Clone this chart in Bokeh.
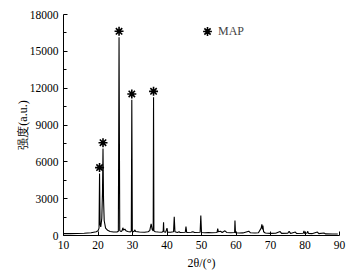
from bokeh.plotting import figure
from bokeh.models import (Range1d, FixedTicker, Legend, LegendItem, ColumnDataSource)
from bokeh.transform import dodge
from bokeh.embed import file_html
from bokeh.resources import INLINE

# XRD profile
two_theta = [10.0, 12.0, 14.0, 16.0, 18.0, 19.5, 20.0, 20.3, 20.45, 20.6, 20.8, 21.1, 21.3, 21.45,
             21.6, 21.8, 22.2, 22.8, 23.5, 24.5, 25.5, 25.9, 26.1, 26.3, 26.7, 27.0, 27.2, 27.4,
             27.8, 28.1, 28.6, 29.4, 29.65, 29.8, 29.95, 30.4, 30.7, 30.9, 32.0, 33.5, 34.5, 35.0,
             35.4, 35.7, 36.0, 36.1, 36.2, 36.6, 37.5, 38.6, 38.9, 39.0, 39.1, 39.6, 40.0, 40.2,
             41.0, 41.9, 42.1, 42.3, 43.0, 43.5, 43.8, 45.3, 45.5, 45.7, 47.0, 47.5, 48.0, 49.6,
             49.8, 50.0, 51.0, 52.0, 53.0, 54.5, 54.7, 54.9, 55.5, 56.0, 56.8, 57.3, 58.5, 59.6,
             59.7, 59.85, 61.0, 62.0, 63.7, 64.2, 65.5, 66.5, 67.3, 67.5, 67.7, 67.8, 68.0, 68.5,
             70.0, 71.5, 72.8, 73.2, 75.0, 75.4, 75.8, 77.2, 77.6, 79.5, 79.7, 79.9, 80.6, 80.8,
             81.0, 82.0, 83.6, 84.0, 85.5, 86.0, 88.0, 89.5]
intensity = [150, 150, 160, 180, 230, 300, 380, 600, 5050, 900, 700, 1400, 3500, 7080,
             3000, 1200, 600, 420, 330, 290, 280, 350, 16150, 400, 320, 400, 630, 450,
             520, 380, 320, 290, 350, 11050, 350, 300, 460, 320, 280, 270, 300, 400,
             950, 500, 380, 11260, 380, 300, 280, 270, 350, 1080, 300, 260, 600, 270,
             260, 300, 1520, 300, 250, 300, 250, 260, 730, 250, 260, 300, 240, 260,
             1630, 250, 230, 240, 220, 240, 570, 300, 350, 250, 380, 250, 220, 250,
             1220, 230, 200, 210, 350, 220, 200, 220, 600, 900, 500, 800, 300, 200,
             170, 180, 320, 170, 180, 340, 170, 280, 160, 180, 380, 170, 200, 340,
             170, 150, 280, 150, 200, 130, 120, 120]

# MAP-marked peaks
map_two_theta = [20.45, 21.45, 26.1, 29.8, 36.1]
map_intensity = [5050, 7080, 16150, 11050, 11260]

x_ticks = [10, 20, 30, 40, 50, 60, 70, 80, 90]
y_ticks = [0, 3000, 6000, 9000, 12000, 15000, 18000]
y_minor = [1500, 4500, 7500, 10500, 13500, 16500]

SERIF = "Liberation Serif"
FS = "11.5px"

p = figure(width=364, height=279, output_backend="svg", toolbar_location=None,
           x_range=Range1d(10, 90), y_range=Range1d(0, 18000),
           min_border_left=63, min_border_right=25, min_border_top=14, min_border_bottom=44)
p.outline_line_color = None
p.xgrid.visible = False
p.ygrid.visible = False
p.background_fill_color = "white"
p.border_fill_color = "white"

p.line(two_theta, intensity, line_color="black", line_width=1.1)

src = ColumnDataSource(dict(x=map_two_theta, y=map_intensity))
stars = p.scatter(x="x", y=dodge("y", 480, range=p.y_range), source=src, marker="asterisk",
                  size=9, line_color="black", line_width=1.6)

legend = Legend(items=[LegendItem(label="MAP", renderers=[stars])], location=(133, 193),
                padding=0, margin=0, glyph_width=22, glyph_height=22, label_standoff=0,
                border_line_color=None, background_fill_alpha=0,
                label_text_font=SERIF, label_text_font_size="12px", label_height=12)
p.add_layout(legend, "center")

for ax in (p.xaxis[0], p.yaxis[0]):
    ax.axis_line_color = "black"
    ax.major_tick_line_color = "black"
    ax.minor_tick_line_color = "black"
    ax.major_tick_in = 4
    ax.major_tick_out = 0
    ax.major_label_text_font = SERIF
    ax.major_label_text_font_size = FS
    ax.major_label_text_color = "black"
    ax.axis_label_text_font = SERIF
    ax.axis_label_text_font_style = "normal"
    ax.axis_label_text_font_size = "12px"
    ax.axis_label_text_color = "black"

p.xaxis[0].ticker = FixedTicker(ticks=x_ticks)
p.xaxis[0].minor_tick_line_color = None
p.xaxis[0].major_label_standoff = 5
p.xaxis[0].axis_label = "2θ/(°)"
p.xaxis[0].axis_label_standoff = 4

p.yaxis[0].ticker = FixedTicker(ticks=y_ticks, minor_ticks=y_minor)
p.yaxis[0].minor_tick_in = 3
p.yaxis[0].minor_tick_out = 0
p.yaxis[0].major_label_standoff = 5
p.yaxis[0].axis_label = "强度(a.u.)"
p.yaxis[0].axis_label_standoff = -3

open("out.html", "w").write(file_html(p, INLINE))
